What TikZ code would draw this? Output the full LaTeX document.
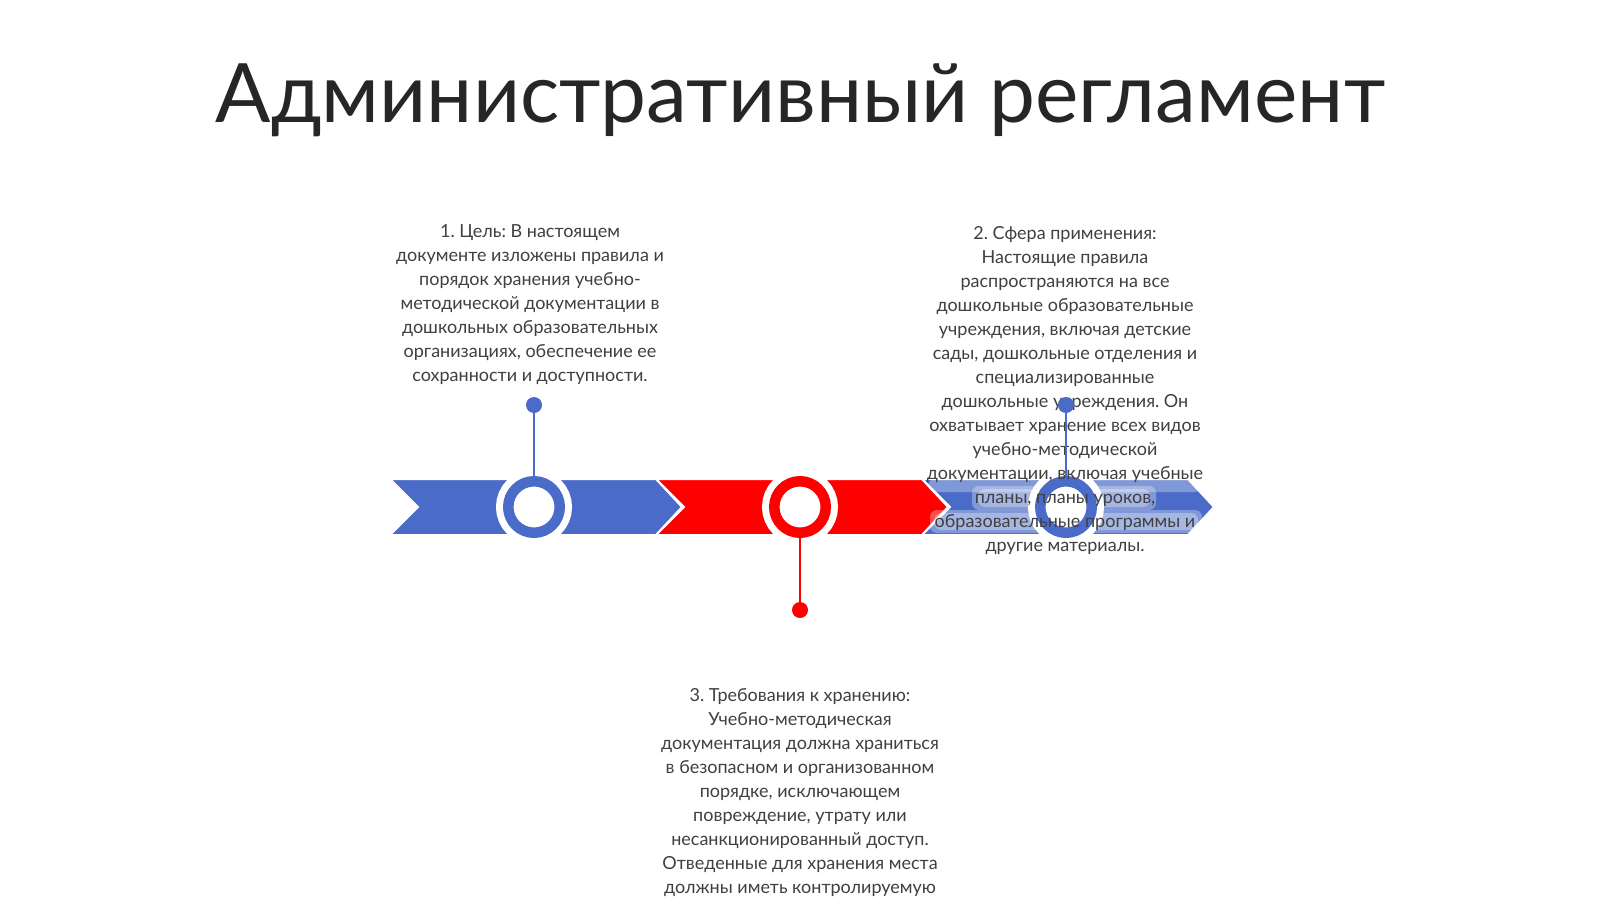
\documentclass[tikz,border=0pt]{standalone}
\usepackage{fontspec}
\setmainfont{Lato}
\frenchspacing
\definecolor{cblue}{HTML}{4A6BC8}
\definecolor{cred}{HTML}{FF0000}
\definecolor{ctext}{HTML}{404040}
\definecolor{ctitle}{HTML}{262626}
\tikzset{
  ring/.style={circle,inner sep=0pt,outer sep=0pt,minimum size=51.5pt,draw=white,line width=24.5pt,fill=white,postaction={draw=#1,line width=10.5pt}},
  dot/.style={circle,inner sep=0pt,minimum size=16pt,fill=#1},
  stem/.style={#1,line width=2.5pt},
  txt/.style={align=center,text=ctext,inner sep=0pt,anchor=north,font=\fontsize{18}{24}\selectfont},
  glow/.style={white,opacity=.3,rounded corners=7pt}
}
\begin{document}
\begin{tikzpicture}[x=1pt,y=-1pt]
  \def\cw{266}
  \useasboundingbox[fill=white] (0,0) rectangle (1600,899);
  % title
  \node[anchor=base,text=ctitle,inner sep=0pt,font=\fontsize{82}{90}\selectfont] (title) at (800,122) {Административный регламент};
  % chevrons
  \foreach \i/\c in {0/cblue,1/cred,2/cblue}{
    \pgfmathsetmacro\xa{390+\cw*\i}
    \fill[\c,draw=white,line width=2pt] (\xa,479) -- ++(\cw,0) -- ++(26,28) -- ++(-26,28) -- (\xa,535) -- ++(28,-28) -- cycle;
  }
  % soft white behind the text on the last chevron
  \fill[glow] (928,479) rectangle (1202,492);
  \fill[glow] (972,486) rectangle (1156,510);
  \fill[glow] (978,489) rectangle (1150,507);
  \fill[glow] (930,510) rectangle (1202,533);
  \fill[glow] (934,513) rectangle (1198,530);
  % rings and dots
  \node[ring=cblue] (c1) at (534,507) {};
  \node[ring=cred] (c2) at (800,507) {};
  \node[ring=cblue] (c3) at (1066,507) {};
  \node[dot=cblue] (d1) at (534,405) {};
  \node[dot=cred] (d2) at (800,610) {};
  \draw[stem=cblue] (d1) -- (c1);
  \draw[stem=cred] (d2) -- (c2);
  % texts
  \node[txt] (t1) at (530,224) {1. Цель: В настоящем\\документе изложены правила и\\порядок хранения учебно-\\методической документации в\\дошкольных образовательных\\организациях, обеспечение ее\\сохранности и доступности.};
  \node[txt] (t2) at (1065,226) {2. Сфера применения:\\Настоящие правила\\распространяются на все\\дошкольные образовательные\\учреждения, включая детские\\сады, дошкольные отделения и\\специализированные\\дошкольные учреждения. Он\\охватывает хранение всех видов\\учебно-методической\\документации, включая учебные\\планы, планы уроков,\\образовательные программы и\\другие материалы.};
  \node[txt] (t3) at (800,688) {3. Требования к хранению:\\Учебно-методическая\\документация должна храниться\\в безопасном и организованном\\порядке, исключающем\\повреждение, утрату или\\несанкционированный доступ.\\Отведенные для хранения места\\должны иметь контролируемую};
  \node[dot=cblue] (d3) at (1066,405) {};
  \draw[stem=cblue] (d3) -- (c3);
\end{tikzpicture}
\end{document}
